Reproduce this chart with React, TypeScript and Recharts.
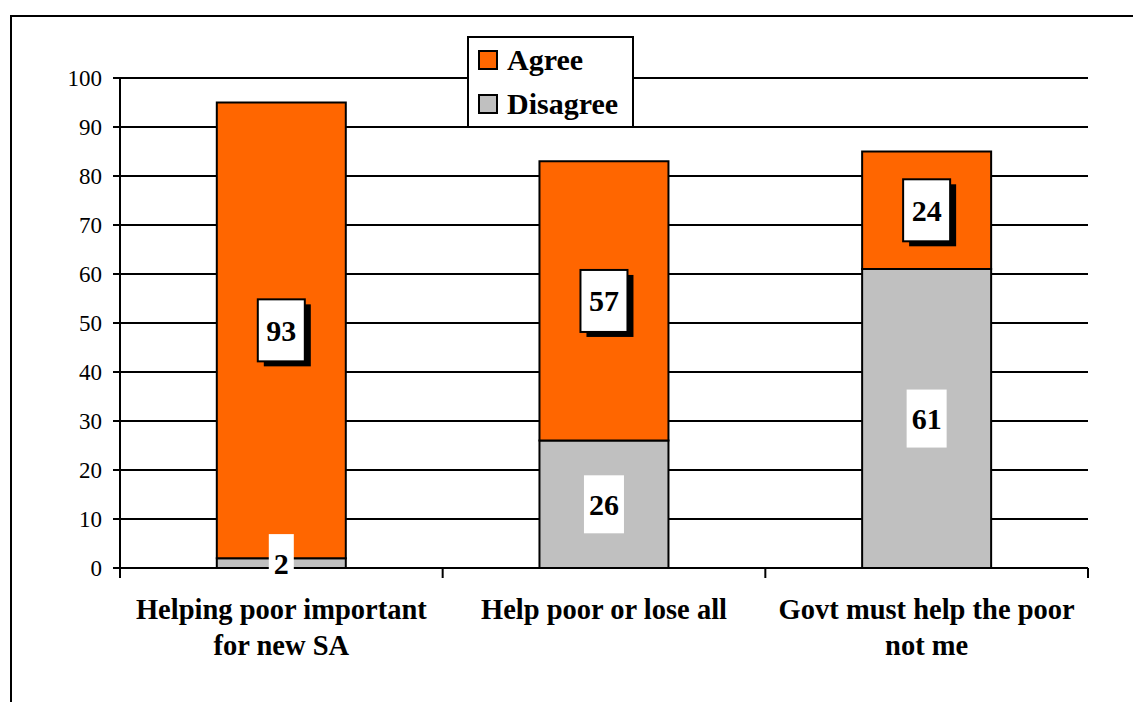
import React from 'react';
import { BarChart, Bar, XAxis, YAxis, CartesianGrid, LabelList, Legend } from 'recharts';

const categories = ['Helping poor important for new SA', 'Help poor or lose all', 'Govt must help the poor not me'];
const categoryLines = [['Helping poor important', 'for new SA'], ['Help poor or lose all'], ['Govt must help the poor', 'not me']];
const disagreeValues = [2, 26, 61];
const agreeValues = [93, 57, 24];
const yTicks = [0, 10, 20, 30, 40, 50, 60, 70, 80, 90, 100];
const seriesNames = ['Agree', 'Disagree'];
const seriesColors = ['#FF6600', '#C0C0C0'];

const data = categories.map((c, i) => ({ name: c, Disagree: disagreeValues[i], Agree: agreeValues[i] }));

const W = 1133;
const H = 702;
const M = { top: 78, right: 45, bottom: 0, left: 60 };
const Y_AXIS_W = 60;
const X_AXIS_H = 134;
const FONT = 'Liberation Serif, Tinos, DejaVu Serif, Times New Roman, serif';
const band = (W - M.left - Y_AXIS_W - M.right) / categories.length;

const CategoryTick = (props: any) => {
  const { x, y, payload, index } = props;
  const lines = categoryLines[index] || [String(payload.value)];
  return (
    <g>
      <line x1={x - band / 2} x2={x - band / 2} y1={y} y2={y + 10} stroke="#000" strokeWidth={2} />
      {index === categories.length - 1 && (
        <line x1={x + band / 2} x2={x + band / 2} y1={y} y2={y + 10} stroke="#000" strokeWidth={2} />
      )}
      <text x={x} y={y + 51} textAnchor="middle" style={{ fontFamily: FONT }} fontWeight="bold" fontSize={28.5} fill="#000">
        {lines.map((l: string, i: number) => (
          <tspan key={i} x={x} dy={i === 0 ? 0 : 36}>{l}</tspan>
        ))}
      </text>
    </g>
  );
};

const makeLabel = (boxed: boolean) => (props: any) => {
  const { x, y, width, height, value } = props;
  const cx = x + width / 2;
  const cy = y + height / 2;
  const n = String(value).length;
  const bw = n * 15 + (boxed ? 17 : 10);
  const bh = boxed ? 62 : 58;
  return (
    <g>
      {boxed && <rect x={cx - bw / 2 + 6} y={cy - bh / 2 + 5} width={bw} height={bh} fill="#000" />}
      <rect
        x={cx - bw / 2}
        y={cy - bh / 2}
        width={bw}
        height={bh}
        fill="#fff"
        stroke={boxed ? '#000' : 'none'}
        strokeWidth={2}
      />
      <text x={cx} y={cy} dy="0.35em" textAnchor="middle" style={{ fontFamily: FONT }} fontWeight="bold" fontSize={30} fill="#000">
        {value}
      </text>
    </g>
  );
};

const LegendBox = () => (
  <div
    style={{
      width: 163,
      height: 88,
      border: '2px solid #000',
      background: '#fff',
      fontFamily: FONT,
      fontWeight: 'bold',
      fontSize: 30,
      color: '#000',
      boxSizing: 'content-box',
    }}
  >
    {seriesNames.map((s, i) => (
      <div key={s} style={{ display: 'flex', alignItems: 'center', height: 44, paddingLeft: 9 }}>
        <span
          style={{
            display: 'inline-block',
            width: 16,
            height: 16,
            border: '2px solid #000',
            background: seriesColors[i],
            marginRight: 9,
            flexShrink: 0,
          }}
        />
        <span style={{ lineHeight: '44px', whiteSpace: 'nowrap' }}>{s}</span>
      </div>
    ))}
  </div>
);

export default function App() {
  return (
    <div style={{ position: 'absolute', left: 0, top: 0, width: W, height: H, overflow: 'hidden', background: '#fff', fontFamily: FONT }}>
      <div
        style={{
          position: 'absolute',
          left: 10,
          top: 15,
          width: 1300,
          height: 900,
          borderLeft: '2px solid #000',
          borderTop: '2px solid #000',
        }}
      />
      <div style={{ position: 'absolute', left: 0, top: 0 }}>
        <BarChart width={W} height={H} data={data} margin={M} barCategoryGap="30%" style={{ fontFamily: FONT }}>
          <CartesianGrid horizontal vertical={false} stroke="#000" strokeWidth={2} />
          <XAxis
            dataKey="name"
            height={X_AXIS_H}
            interval={0}
            tickLine={false}
            tickSize={0}
            tickMargin={0}
            axisLine={{ stroke: '#000', strokeWidth: 2 }}
            tick={<CategoryTick />}
          />
          <YAxis
            width={Y_AXIS_W}
            domain={[0, 100]}
            ticks={yTicks}
            interval={0}
            tickSize={7}
            tickMargin={11}
            axisLine={{ stroke: '#000', strokeWidth: 2 }}
            tickLine={{ stroke: '#000', strokeWidth: 2 }}
            tick={{ fill: '#000', fontSize: 23, style: { fontFamily: FONT } }}
          />
          <YAxis
            yAxisId="right"
            orientation="right"
            width={0}
            domain={[0, 100]}
            tick={false}
            tickLine={false}
            axisLine={{ stroke: '#000', strokeWidth: 2 }}
          />
          <Legend
            layout="vertical"
            align="center"
            verticalAlign="middle"
            content={<LegendBox />}
            wrapperStyle={{ left: 467, top: 36, width: 167, height: 92 }}
          />
          <Bar dataKey="Disagree" stackId="a" fill={seriesColors[1]} stroke="#000" strokeWidth={2} isAnimationActive={false}>
            <LabelList dataKey="Disagree" content={makeLabel(false)} />
          </Bar>
          <Bar dataKey="Agree" stackId="a" fill={seriesColors[0]} stroke="#000" strokeWidth={2} isAnimationActive={false}>
            <LabelList dataKey="Agree" content={makeLabel(true)} />
          </Bar>
        </BarChart>
      </div>
    </div>
  );
}
